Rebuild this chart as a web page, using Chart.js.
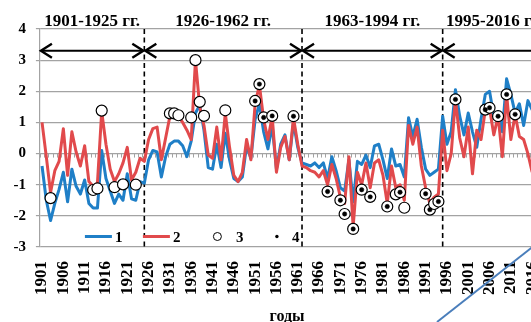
<!DOCTYPE html>
<html>
<head>
<meta charset="utf-8">
<script src="https://cdn.jsdelivr.net/npm/chart.js@4.4.0/dist/chart.umd.min.js"></script>
<style>
  html, body { margin: 0; padding: 0; background: #ffffff; overflow: hidden; }
</style>
</head>
<body>
<canvas id="chart" width="545" height="330"></canvas>
<script>
// categories: every year 1901..2016
const years = [];
for (let y = 1901; y <= 2016; y++) years.push(String(y));

// series 1 (blue)
const series1 = [
  -0.4, -1.5, -2.15, -1.6, -1.15, -0.6, -1.55, -0.5, -1.05, -1.3,
  -0.85, -1.6, -1.75, -1.75, 0.1, -0.8, -1.2, -1.6, -1.3, -1.5,
  -0.65, -1.45, -1.5, -0.9, -0.95,
  -0.2, 0.1, 0.05, -0.75, -0.1, 0.3, 0.4, 0.4, 0.25, -0.1,
  0.4, 1.3, 1.55, 0.75, -0.45, -0.5, 0.3, -0.45, 0.65, -0.2,
  -0.8, -0.9, -0.75, 0.25, -0.15, 1.1, 1.6, 0.7, 0.15, 0.9,
  -0.5, 0.3, 0.6, -0.2, 1.0, 0.2, -0.3,
  -0.35, -0.4, -0.3, -0.45, -0.3, -0.8, -0.1, -0.55, -1.1, -1.2,
  -0.2, -1.55, -0.25, -0.35, -0.05, -0.45, 0.25, 0.3, -0.2, -0.8,
  0.15, -0.4, -0.35, -0.75, 1.15, 0.55, 1.1, 0.2, -0.5, -0.7,
  -0.6, -0.5,
  1.2, 0.3, 0.7, 2.05, 1.2, 0.6, 1.3, 0.7, 0.2, 1.1,
  1.9, 2.0, 1.2, 1.35, 0.7, 2.4, 1.9, 1.3, 1.6, 0.9,
  1.7, 1.4
];

// series 2 (red)
const series2 = [
  1.0, -0.1, -1.25, -0.55, -0.25, 0.8, -0.7, 0.7, 0.05, -0.4,
  0.25, -0.9, -1.05, -0.95, 1.35, 0.3, -0.5, -0.9, -0.65, -0.3,
  0.2, -0.85, -0.6, -0.15, -0.25,
  0.45, 0.8, 0.85, -0.2, 0.5, 1.2, 1.25, 1.2, 1.0, 0.75,
  0.45, 3.0, 1.5, 0.9, -0.05, -0.15, 0.85, -0.2, 1.3, 0.2,
  -0.7, -0.9, -0.6, 0.45, -0.2, 1.6, 2.2, 1.1, 0.45, 1.2,
  -0.6, 0.2, 0.55, -0.2, 1.15, 0.3, -0.4,
  -0.45, -0.55, -0.6, -0.75, -0.55, -1.0, -0.35, -0.8, -1.4, -1.6,
  -0.1, -2.35, -0.6, -1.0, -0.3, -1.1, -0.3, -0.2, -0.7, -1.6,
  -0.4, -1.1, -1.0, -1.5, 0.9, 0.3, 0.85, -0.4, -1.1, -1.6,
  -1.4, -1.3,
  0.75, -0.55, 0.0, 1.75, 0.5, -0.1, 0.85, -0.65, 0.75, 0.45,
  1.4, 1.45, 0.6, 1.2, -0.1, 1.9, 0.45, 1.25, 0.55, 0.45,
  0.0, -0.6
];

// series 3 (open circles)
const circleYears = [
  1903, 1913, 1914, 1915, 1918, 1920, 1923,
  1931, 1932, 1933, 1936, 1937, 1938, 1939, 1944,
  1951, 1952, 1953, 1955, 1960,
  1968, 1971, 1972, 1974, 1976, 1978, 1982, 1984, 1985, 1986,
  1991, 1992, 1993, 1994,
  1998, 2005, 2006, 2008, 2010, 2012
];
const circleValues = [
  -1.43, -1.17, -1.12, 1.38, -1.08, -0.99, -1.0,
  1.29, 1.29, 1.23, 1.16, 3.0, 1.66, 1.21, 1.39,
  1.69, 2.23, 1.16, 1.21, 1.2,
  -1.22, -1.5, -1.94, -2.42, -1.16, -1.39, -1.7, -1.31, -1.24, -1.74,
  -1.29, -1.8, -1.62, -1.54,
  1.74, 1.41, 1.47, 1.2, 1.9, 1.26
];

// series 4 (dots, sit inside some of the circles)
const dotYears = [
  1951, 1952, 1953, 1955, 1960,
  1968, 1971, 1972, 1974, 1976, 1978, 1982, 1985,
  1991, 1992, 1994,
  1998, 2005, 2006, 2008, 2010, 2012
];

// periods
const periodNames = ['1901-1925 гг.', '1926-1962 гг.', '1963-1994 гг.', '1995-2016 гг.'];
const dividerYears = ['1925', '1962', '1995'];
const arrowLevel = 3.3;

const legendLabels = ['1', '2', '3', '4'];
const axisTitle = 'годы';

const BLUE = '#1f7fc7';
const RED = '#e14a4c';
const GRID = '#a3a3a3';
const FONT = 'Liberation Serif';

function byYear(list, values) {
  return years.map(y => {
    const k = list.indexOf(Number(y));
    return k < 0 ? null : values[k];
  });
}
const circleData = byYear(circleYears, circleValues);
const dotData = byYear(dotYears, dotYears.map(y => circleValues[circleYears.indexOf(y)]));

const overlay = {
  id: 'overlay',
  beforeDatasetsDraw(chart) {
    const { ctx, chartArea: ca, scales: { x, y } } = chart;
    const step = x.getPixelForValue(1) - x.getPixelForValue(0);
    ctx.save();

    // small tick marks along the zero line
    const y0 = y.getPixelForValue(0);
    ctx.strokeStyle = GRID;
    ctx.lineWidth = 1;
    ctx.beginPath();
    for (let k = 0; k <= years.length; k++) {
      const px = Math.round(x.getPixelForValue(k) - step / 2) + 0.5;
      ctx.moveTo(px, y0);
      ctx.lineTo(px, y0 + 4);
    }
    ctx.stroke();

    // dashed dividers
    const divX = dividerYears.map(d => x.getPixelForValue(years.indexOf(d)));
    ctx.strokeStyle = '#000';
    ctx.lineWidth = 1.6;
    ctx.setLineDash([5, 3.5]);
    divX.forEach(px => {
      ctx.beginPath();
      ctx.moveTo(px, ca.top);
      ctx.lineTo(px, ca.bottom);
      ctx.stroke();
    });
    ctx.setLineDash([]);

    // double-headed arrows and period captions
    const ya = y.getPixelForValue(arrowLevel);
    const bounds = [ca.left].concat(divX, [chart.width]);
    ctx.fillStyle = '#000';
    ctx.font = 'bold 17px "' + FONT + '"';
    ctx.textAlign = 'center';
    ctx.textBaseline = 'alphabetic';
    for (let p = 0; p < periodNames.length; p++) {
      const a = bounds[p] + 1, b = bounds[p + 1] - 1;
      ctx.lineWidth = 2;
      ctx.beginPath();
      ctx.moveTo(a, ya); ctx.lineTo(b, ya);
      ctx.stroke();
      ctx.lineWidth = 2.4;
      ctx.beginPath();
      ctx.moveTo(a + 11, ya - 7); ctx.lineTo(a, ya); ctx.lineTo(a + 11, ya + 7);
      ctx.moveTo(b - 11, ya - 7); ctx.lineTo(b, ya); ctx.lineTo(b - 11, ya + 7);
      ctx.stroke();
      ctx.fillText(periodNames[p], (bounds[p] + bounds[p + 1]) / 2, 26);
    }
    ctx.restore();
  },
  afterDraw(chart) {
    const { ctx, chartArea: ca } = chart;
    ctx.save();
    const ly = ca.bottom - 10.5;
    ctx.font = 'bold 15px "' + FONT + '"';
    ctx.fillStyle = '#000';
    ctx.textBaseline = 'alphabetic';
    ctx.textAlign = 'left';
    // line items
    const lines = [[ca.left + 45, BLUE], [ca.left + 103, RED]];
    lines.forEach(([lx, c], k) => {
      ctx.strokeStyle = c;
      ctx.lineWidth = 3;
      ctx.beginPath();
      ctx.moveTo(lx, ly); ctx.lineTo(lx + 27, ly);
      ctx.stroke();
      ctx.fillText(legendLabels[k], lx + 30, ly + 5);
    });
    // circle item
    ctx.strokeStyle = '#000';
    ctx.lineWidth = 1;
    ctx.beginPath();
    ctx.arc(ca.left + 177.5, ly, 4, 0, Math.PI * 2);
    ctx.stroke();
    ctx.fillText(legendLabels[2], ca.left + 196, ly + 5);
    // dot item
    ctx.beginPath();
    ctx.arc(ca.left + 237, ly, 1.7, 0, Math.PI * 2);
    ctx.fill();
    ctx.fillText(legendLabels[3], ca.left + 252, ly + 5);

    // stray blue connector line at lower right of the figure
    ctx.strokeStyle = '#4a7ebb';
    ctx.lineWidth = 2;
    ctx.beginPath();
    ctx.moveTo(437, 322);
    ctx.lineTo(535, 245);
    ctx.stroke();
    ctx.restore();
  }
};

new Chart(document.getElementById('chart'), {
  type: 'line',
  data: {
    labels: years,
    datasets: [
      {
        label: legendLabels[3], data: dotData, showLine: false, order: 0,
        pointRadius: 2.2, pointBackgroundColor: '#000', pointBorderColor: '#000', pointBorderWidth: 0.5
      },
      {
        label: legendLabels[2], data: circleData, showLine: false, order: 1,
        pointRadius: 5.5, pointBackgroundColor: '#fff', pointBorderColor: '#000', pointBorderWidth: 1.2
      },
      {
        label: legendLabels[1], data: series2, order: 2,
        borderColor: RED, borderWidth: 3, pointRadius: 0, tension: 0, borderJoinStyle: 'round'
      },
      {
        label: legendLabels[0], data: series1, order: 3,
        borderColor: BLUE, borderWidth: 3, pointRadius: 0, tension: 0, borderJoinStyle: 'round'
      }
    ]
  },
  options: {
    responsive: false,
    animation: false,
    devicePixelRatio: 1,
    layout: { padding: { top: 29, right: 10.7, bottom: 0, left: 0 } },
    plugins: { legend: { display: false }, tooltip: { enabled: false } },
    scales: {
      x: {
        type: 'category',
        offset: true,
        grid: { display: false, drawTicks: false, tickLength: 0 },
        border: { display: false },
        ticks: {
          autoSkip: false,
          maxRotation: 90,
          minRotation: 90,
          padding: 14,
          color: '#000',
          font: { family: FONT, size: 17, weight: 'bold' },
          callback: (v, i) => (i % 5 === 0 ? years[i] : null)
        },
        title: {
          display: true,
          text: axisTitle,
          color: '#000',
          font: { family: FONT, size: 16, weight: 'bold' },
          padding: { top: 0, bottom: 3.4 }
        },
        afterFit: s => {
          s.height = 83;
          s.paddingLeft = 0;
          s.paddingRight = 0;
        }
      },
      y: {
        min: -3,
        max: 4,
        grid: { color: GRID, lineWidth: 1.2, drawTicks: true, tickLength: 4 },
        border: { display: true, color: GRID, width: 1.2 },
        ticks: {
          stepSize: 1,
          padding: 10,
          color: '#000',
          font: { family: FONT, size: 15, weight: 'bold' }
        },
        afterFit: s => { s.width = 39.9; }
      }
    }
  },
  plugins: [overlay]
});
</script>
</body>
</html>
